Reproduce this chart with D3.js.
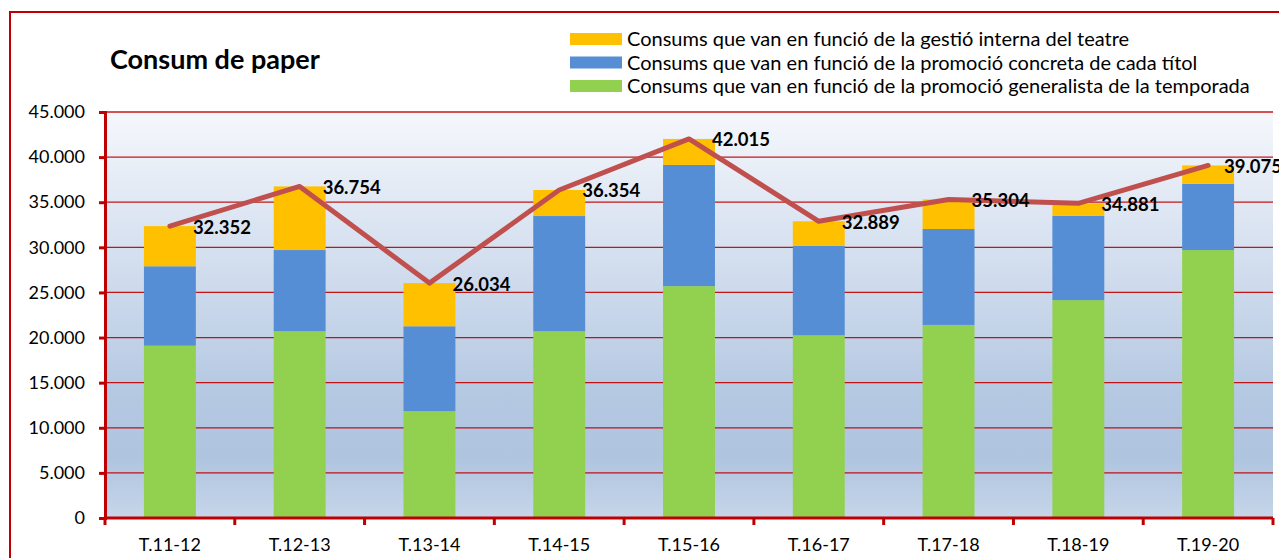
<!DOCTYPE html>
<html>
<head>
<meta charset="utf-8">
<script src="https://cdn.jsdelivr.net/npm/d3@7"></script>
<style>
  body { margin: 0; background: #fff; }
  svg { display: block; font-family: Lato, "Open Sans", sans-serif; }
</style>
</head>
<body>
<div id="chart"></div>
<script>
// Temporades i consums (dades llegides del gràfic)
var seasons = ["T.11-12", "T.12-13", "T.13-14", "T.14-15", "T.15-16", "T.16-17", "T.17-18", "T.18-19", "T.19-20"];
var generalista = [19100, 20700, 11850, 20700, 25700, 20250, 21400, 24150, 29700];
var concreta    = [8800, 9000, 9400, 12770, 13430, 9930, 10630, 9360, 7350];
var interna     = [4452, 7054, 4784, 2884, 2885, 2709, 3274, 1371, 2025];
var totals      = [32352, 36754, 26034, 36354, 42015, 32889, 35304, 34881, 39075];
var yTicks      = [0, 5000, 10000, 15000, 20000, 25000, 30000, 35000, 40000, 45000];

var seriesNames = [
  "Consums que van en funció de la gestió interna del teatre",
  "Consums que van en funció de la promoció concreta de cada títol",
  "Consums que van en funció de la promoció generalista de la temporada"
];
var seriesColors = ["#FFC000", "#558ED5", "#92D050"];

var width = 1279, height = 558;
var plot = { left: 105, right: 1273, top: 112, bottom: 518 };
var red = "#C00000";

var svg = d3.select("#chart").append("svg")
  .attr("width", width)
  .attr("height", height);

// Degradat del fons de l'àrea de traçat
var grad = svg.append("defs").append("linearGradient")
  .attr("id", "bg").attr("x1", 0).attr("y1", 0).attr("x2", 0).attr("y2", 1);
grad.append("stop").attr("offset", "0%").attr("stop-color", "#F5F7FC");
grad.append("stop").attr("offset", "70%").attr("stop-color", "#B4C8E2");
grad.append("stop").attr("offset", "85%").attr("stop-color", "#AFC4DF");
grad.append("stop").attr("offset", "100%").attr("stop-color", "#C6D6EA");

// marc exterior (queda tallat a la dreta i a baix)
svg.append("rect")
  .attr("x", 10).attr("y", 12)
  .attr("width", 1300).attr("height", 600)
  .attr("fill", "none").attr("stroke", red).attr("stroke-width", 2);

var x = d3.scaleBand().domain(seasons).range([plot.left, plot.right]).paddingInner(0).paddingOuter(0);
var y = d3.scaleLinear().domain([0, 45000]).range([plot.bottom, plot.top]);

svg.append("rect")
  .attr("x", plot.left).attr("y", plot.top)
  .attr("width", plot.right - plot.left).attr("height", plot.bottom - plot.top)
  .attr("fill", "url(#bg)");

// línies de graella
svg.append("g").selectAll("line").data(yTicks.slice(1)).join("line")
  .attr("x1", plot.left).attr("x2", plot.right)
  .attr("y1", function(d) { return y(d); }).attr("y2", function(d) { return y(d); })
  .attr("stroke", red).attr("stroke-width", 1.3).attr("opacity", 0.9);

// barres apilades
var rows = seasons.map(function(s, i) {
  return { season: s, generalista: generalista[i], concreta: concreta[i], interna: interna[i] };
});
var stack = d3.stack().keys(["generalista", "concreta", "interna"]);
var stacked = stack(rows);
var colorByKey = { generalista: "#92D050", concreta: "#558ED5", interna: "#FFC000" };
var barW = x.bandwidth() * 0.4;

svg.append("g").selectAll("g").data(stacked).join("g")
  .attr("fill", function(d) { return colorByKey[d.key]; })
  .selectAll("rect").data(function(d) { return d; }).join("rect")
  .attr("x", function(d) { return x(d.data.season) + (x.bandwidth() - barW) / 2; })
  .attr("width", barW)
  .attr("y", function(d) { return y(d[1]); })
  .attr("height", function(d) { return y(d[0]) - y(d[1]); });

// eixos
var yAxis = svg.append("g")
  .attr("transform", "translate(" + plot.left + ",0)")
  .call(d3.axisLeft(y).tickValues(yTicks).tickSize(6).tickPadding(14)
    .tickFormat(function(d) { return d3.format(",")(d).replace(/,/g, "."); }));
yAxis.select(".domain").attr("stroke", red).attr("stroke-width", 3);
yAxis.selectAll(".tick line").attr("stroke", red).attr("stroke-width", 3);
yAxis.selectAll("text").attr("font-size", 18).attr("fill", "#000")
  .attr("font-family", "Lato, sans-serif");

var xAxis = svg.append("g")
  .attr("transform", "translate(0," + plot.bottom + ")")
  .call(d3.axisBottom(x).tickSize(0).tickPadding(20));
xAxis.select(".domain").remove();
xAxis.selectAll("text").attr("font-size", 18).attr("fill", "#000")
  .attr("font-family", "Lato, sans-serif");

// marques de l'eix X als límits de cada categoria
var bounds = seasons.map(function(s) { return x(s); }).concat([plot.right]);
svg.append("line")
  .attr("x1", plot.left).attr("x2", plot.right)
  .attr("y1", plot.bottom).attr("y2", plot.bottom)
  .attr("stroke", red).attr("stroke-width", 3);
svg.append("g").selectAll("line").data(bounds).join("line")
  .attr("x1", function(d) { return d; }).attr("x2", function(d) { return d; })
  .attr("y1", plot.bottom).attr("y2", plot.bottom + 7)
  .attr("stroke", red).attr("stroke-width", 3);

// línia de totals
var line = d3.line()
  .x(function(d, i) { return x(seasons[i]) + x.bandwidth() / 2; })
  .y(function(d) { return y(d); });
svg.append("path").datum(totals)
  .attr("d", line)
  .attr("fill", "none")
  .attr("stroke", "#C0504D")
  .attr("stroke-width", 5)
  .attr("stroke-linecap", "round")
  .attr("stroke-linejoin", "round");

// etiquetes dels totals
var chartRight = 1282;
svg.append("g").selectAll("text").data(totals).join("text")
  .text(function(d) { return d3.format(",")(d).replace(/,/g, "."); })
  .attr("font-size", 18.5).attr("font-weight", "bold").attr("fill", "#000")
  .attr("dy", "0.35em")
  .attr("y", function(d) { return y(d) + 1; })
  .attr("x", function(d, i) {
    var px = x(seasons[i]) + x.bandwidth() / 2 + 23;
    var w = this.getComputedTextLength();
    return Math.min(px, chartRight - w);
  });

// títol
svg.append("text")
  .attr("x", 110).attr("y", 69)
  .attr("font-size", 27).attr("font-weight", "bold")
  .text("Consum de paper");

// llegenda
var legend = svg.append("g").selectAll("g").data(seriesNames).join("g")
  .attr("transform", function(d, i) { return "translate(570," + (39 + i * 23.5) + ")"; });
legend.append("rect")
  .attr("x", 0).attr("y", -6).attr("width", 52).attr("height", 12)
  .attr("fill", function(d, i) { return seriesColors[i]; });
legend.append("text")
  .attr("x", 57).attr("dy", "0.35em")
  .attr("font-size", 20)
  .text(function(d) { return d; });
</script>
</body>
</html>
